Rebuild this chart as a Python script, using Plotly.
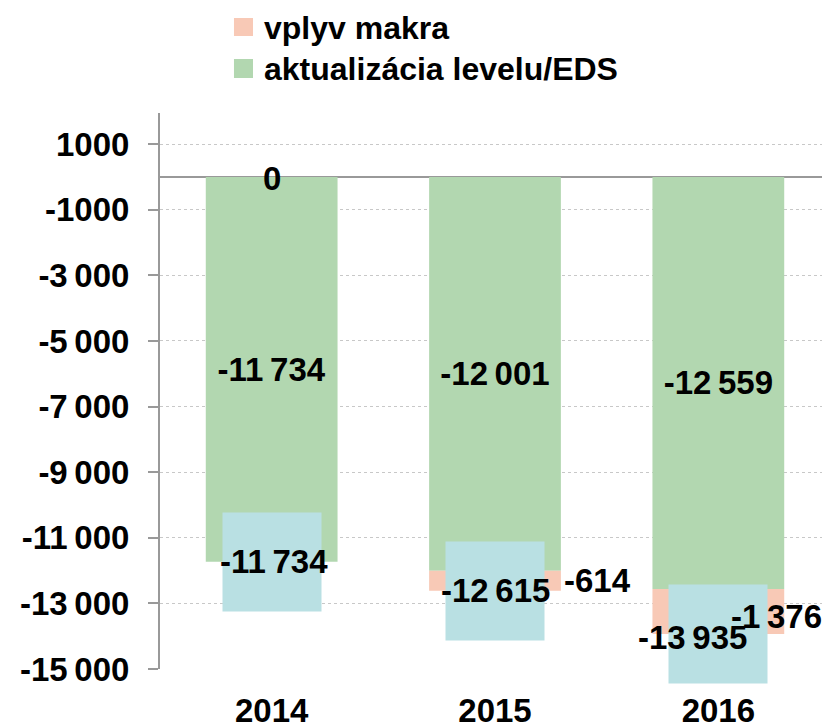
"""
Stacked negative bar chart: aktualizácia levelu/EDS + vplyv makra per year.
"""

import plotly.graph_objects as go

# ---- data -------------------------------------------------------------
years = ["2014", "2015", "2016"]
level_eds = [-11734, -12001, -12559]
makro = [0, -614, -1376]
totals = [-11734, -12615, -13935]

level_labels = ["-11\u2009734", "-12\u2009001", "-12\u2009559"]
makro_labels = ["0", "-614", "-1\u2009376"]
total_labels = ["-11\u2009734", "-12\u2009615", "-13\u2009935"]

tick_vals = [1000, -1000, -3000, -5000, -7000, -9000, -11000, -13000, -15000]
tick_text = ["1000", "-1000", "-3\u2009000", "-5\u2009000", "-7\u2009000",
             "-9\u2009000", "-11\u2009000", "-13\u2009000", "-15\u2009000"]

legend_names = ["vplyv makra", "aktualizácia levelu/EDS"]

# label nudges (pixels) so the labels do not collide
makro_xshift = [0, 102, 58]
makro_yshift = [-2, 0, -5]
total_xshift = [2, 0, -26]
total_yshift = [0, 0, -3]

GREEN = "#b2d7b0"
SALMON = "#f8c9b6"
BLUE = "#b9e0e3"
AXIS = "#999999"
FAMILY = "Liberation Sans, Arial, sans-serif"
FONT = dict(family=FAMILY, size=33, color="black", weight="bold")
LEGEND_FONT = dict(family=FAMILY, size=32, color="black", weight="bold")

fig = go.Figure()

fig.add_trace(
    go.Bar(
        x=years,
        y=level_eds,
        name=legend_names[1],
        marker=dict(color=GREEN, line=dict(width=0)),
        text=level_labels,
        textposition="inside",
        insidetextanchor="middle",
        textfont=FONT,
    )
)

fig.add_trace(
    go.Bar(
        x=years,
        y=makro,
        name=legend_names[0],
        marker=dict(color=SALMON, line=dict(width=0)),
    )
)

# annotations on a category axis take the category index
# light blue boxes behind the totals (drawn first so labels sit on top)
for i in range(len(years)):
    fig.add_annotation(
        x=i, y=totals[i], text=" ", showarrow=False,
        width=98, height=98, bgcolor=BLUE, borderpad=0, font=FONT,
    )

# labels for the makro segments (a zero segment sits on the zero line)
for i in range(len(years)):
    mid = level_eds[i] + makro[i] / 2 if makro[i] else 0
    fig.add_annotation(
        x=i, y=mid, text=makro_labels[i], showarrow=False,
        xshift=makro_xshift[i], yshift=makro_yshift[i], font=FONT,
    )

for i in range(len(years)):
    fig.add_annotation(
        x=i, y=totals[i], text=total_labels[i], showarrow=False,
        xshift=total_xshift[i], yshift=total_yshift[i], font=FONT,
    )

# hand-made legend above the plot (keeps the plot area fixed)
legend_colors = [SALMON, GREEN]
legend_rows = [(1.1709, 1.1385, 1.1529), (1.0971, 1.0629, 1.0791)]
for name, color, (top, bottom, mid) in zip(legend_names, legend_colors, legend_rows):
    fig.add_shape(
        type="rect", xref="paper", yref="paper",
        x0=0.1104, x1=0.1388, y0=bottom, y1=top,
        fillcolor=color, line=dict(width=0),
    )
    fig.add_annotation(
        xref="paper", yref="paper", x=0.1522, y=mid,
        xanchor="left", yanchor="middle", text=name,
        showarrow=False, font=LEGEND_FONT,
    )

# page body has an 8px margin, so the figure is 8px smaller than the window
fig.update_layout(
    width=822,
    height=717,
    barmode="relative",
    bargap=0.41,
    plot_bgcolor="white",
    paper_bgcolor="white",
    margin=dict(l=152, r=0, t=105, b=56),
    font=FONT,
    showlegend=False,
    xaxis=dict(
        type="category",
        range=[-0.5, 2.5],
        showline=False, ticks="", showgrid=False,
        tickfont=FONT, ticklabelstandoff=19,
        automargin=False,
    ),
    yaxis=dict(
        range=[-15000, 1950],
        tickvals=tick_vals,
        ticktext=tick_text,
        tickfont=FONT,
        ticks="outside", ticklen=10, tickwidth=2, tickcolor=AXIS,
        ticklabelstandoff=12,
        showline=True, linecolor=AXIS, linewidth=2,
        showgrid=True, gridcolor="#c8c8c8", griddash="dot", gridwidth=1,
        zeroline=True, zerolinecolor=AXIS, zerolinewidth=2,
        automargin=False,
    ),
)

fig.write_html("out.html")
